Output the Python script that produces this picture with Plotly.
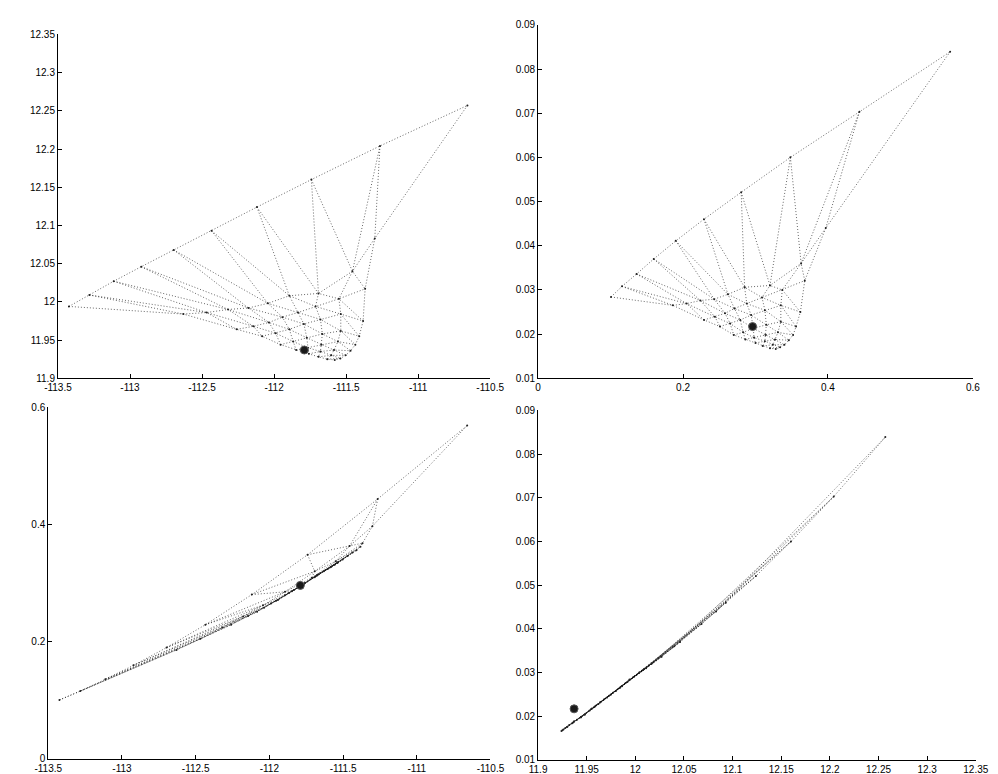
import plotly.graph_objects as go

# ---- data: 55 mesh nodes, row-major (row r = 0..9, j = 0..9-r) ----
ROW_SIZES = [10, 9, 8, 7, 6, 5, 4, 3, 2, 1]

A = [-113.424, -113.282, -113.113, -112.922, -112.697, -112.434, -112.119, -111.741, -111.265, -110.658,
     -112.630, -112.468, -112.319, -112.178, -112.043, -111.894, -111.692, -111.456, -111.301,
     -112.259, -112.144, -112.036, -111.942, -111.834, -111.712, -111.550, -111.368,
     -112.083, -111.989, -111.894, -111.793, -111.678, -111.537, -111.382,
     -111.955, -111.867, -111.773, -111.665, -111.537, -111.409,
     -111.847, -111.766, -111.672, -111.557, -111.436,
     -111.759, -111.678, -111.584, -111.469,
     -111.692, -111.604, -111.503,
     -111.631, -111.540,
     -111.579]

B = [11.994, 12.009, 12.027, 12.046, 12.068, 12.093, 12.124, 12.160, 12.204, 12.257,
     11.984, 11.986, 11.990, 11.992, 11.998, 12.008, 12.011, 12.040, 12.083,
     11.964, 11.968, 11.973, 11.980, 11.986, 11.994, 12.004, 12.017,
     11.955, 11.959, 11.964, 11.971, 11.977, 11.984, 11.975,
     11.944, 11.948, 11.953, 11.958, 11.962, 11.955,
     11.937, 11.940, 11.944, 11.948, 11.944,
     11.932, 11.935, 11.937, 11.936,
     11.928, 11.930, 11.930,
     11.925, 11.926,
     11.924]

C = [0.1006, 0.1158, 0.1359, 0.1596, 0.1900, 0.2289, 0.2803, 0.3482, 0.4434, 0.5686,
     0.186, 0.205, 0.224, 0.243, 0.262, 0.285, 0.320, 0.363, 0.397,
     0.229, 0.244, 0.258, 0.271, 0.288, 0.309, 0.337, 0.368,
     0.251, 0.265, 0.279, 0.294, 0.313, 0.335, 0.362,
     0.270, 0.283, 0.297, 0.315, 0.335, 0.356,
     0.286, 0.298, 0.314, 0.331, 0.352,
     0.300, 0.313, 0.327, 0.346,
     0.310, 0.324, 0.340,
     0.320, 0.334,
     0.328]

D = [0.0284, 0.0308, 0.0336, 0.0370, 0.0411, 0.0460, 0.0521, 0.0600, 0.0703, 0.0839,
     0.0265, 0.0269, 0.0276, 0.0279, 0.0290, 0.0306, 0.0310, 0.0360, 0.0440,
     0.0232, 0.0239, 0.0247, 0.0258, 0.0269, 0.0283, 0.0300, 0.0321,
     0.0217, 0.0224, 0.0232, 0.0243, 0.0254, 0.0265, 0.0250,
     0.0198, 0.0204, 0.0213, 0.0221, 0.0228, 0.0217,
     0.0188, 0.0192, 0.0198, 0.0204, 0.0198,
     0.0180, 0.0184, 0.0188, 0.0186,
     0.0173, 0.0176, 0.0176,
     0.0168, 0.0170,
     0.0166]

# reference point (large dot)
REF_A = [-111.79]
REF_B = [11.937]
REF_C = [0.296]
REF_D = [0.0217]

# tick labels
TL_X = [-113.5, -113, -112.5, -112, -111.5, -111, -110.5]
TL_X_TXT = ["-113.5", "-113", "-112.5", "-112", "-111.5", "-111", "-110.5"]
TL_Y = [11.9, 11.95, 12.0, 12.05, 12.1, 12.15, 12.2, 12.25, 12.3, 12.35]
TL_Y_TXT = ["11.9", "11.95", "12", "12.05", "12.1", "12.15", "12.2", "12.25", "12.3", "12.35"]
TR_X = [0, 0.2, 0.4, 0.6]
TR_X_TXT = ["0", "0.2", "0.4", "0.6"]
D_TICKS = [0.01, 0.02, 0.03, 0.04, 0.05, 0.06, 0.07, 0.08, 0.09]
D_TICKS_TXT = ["0.01", "0.02", "0.03", "0.04", "0.05", "0.06", "0.07", "0.08", "0.09"]
BL_Y = [0, 0.2, 0.4, 0.6]
BL_Y_TXT = ["0", "0.2", "0.4", "0.6"]
BR_X = TL_Y
BR_X_TXT = TL_Y_TXT

# ---- mesh topology (index structure of the triangular grid) ----
idx = {}
k = 0
for r, n in enumerate(ROW_SIZES):
    for j in range(n):
        idx[(r, j)] = k
        k += 1
N = len(ROW_SIZES) - 1
polylines = []
for r in range(N + 1):                      # rows
    polylines.append([idx[(r, j)] for j in range(N + 1 - r)])
for j in range(N + 1):                      # columns
    polylines.append([idx[(r, j)] for r in range(N + 1 - j)])
for d in range(1, N + 1):                   # diagonals r + j = d
    polylines.append([idx[(r, d - r)] for r in range(d + 1)])


def mesh_xy(X, Y):
    xs, ys = [], []
    for pl in polylines:
        if len(pl) < 2:
            continue
        for i in pl:
            xs.append(X[i])
            ys.append(Y[i])
        xs.append(None)
        ys.append(None)
    return xs, ys


panels = [
    (A, B, REF_A, REF_B, "x", "y"),
    (C, D, REF_C, REF_D, "x2", "y2"),
    (A, C, REF_A, REF_C, "x3", "y3"),
    (B, D, REF_B, REF_D, "x4", "y4"),
]

fig = go.Figure()
for X, Y, RX, RY, xa, ya in panels:
    mx, my = mesh_xy(X, Y)
    fig.add_trace(go.Scatter(x=mx, y=my, mode="lines", xaxis=xa, yaxis=ya,
                             line=dict(color="rgba(0,0,0,0.6)", width=1, dash="1px,2px"),
                             hoverinfo="skip", showlegend=False))
    fig.add_trace(go.Scatter(x=X, y=Y, mode="markers", xaxis=xa, yaxis=ya,
                             marker=dict(color="#222", size=2),
                             showlegend=False))
    fig.add_trace(go.Scatter(x=RX, y=RY, mode="markers", xaxis=xa, yaxis=ya,
                             marker=dict(color="#1a1a1a", size=8,
                                         line=dict(color="#555", width=1)),
                             showlegend=False))

W, H = 998, 774
font = dict(family="Liberation Sans, Arial, sans-serif", size=10, color="black")


def ax(domain, rng, tv, tt, anchor):
    return dict(domain=domain, range=rng, tickvals=tv, ticktext=tt, anchor=anchor,
                ticks="inside", ticklen=4, tickcolor="black", tickwidth=1,
                showline=True, linecolor="black", linewidth=1, mirror=False,
                showgrid=False, zeroline=False, tickfont=font, fixedrange=True)


fig.update_layout(
    width=W, height=H, autosize=False,
    margin=dict(l=0, r=0, t=0, b=0),
    paper_bgcolor="white", plot_bgcolor="white",
    showlegend=False,
    xaxis=ax([37 / W, 481.7 / W], [-113.5, -110.5], TL_X, TL_X_TXT, "y"),
    yaxis=ax([1 - 370 / H, 1 - 20.7 / H], [11.9, 12.35], TL_Y, TL_Y_TXT, "x"),
    xaxis2=ax([531 / W, 978.3 / W], [0, 0.6], TR_X, TR_X_TXT, "y2"),
    yaxis2=ax([1 - 370 / H, 1 - 11 / H], [0.01, 0.09], D_TICKS, D_TICKS_TXT, "x2"),
    xaxis3=ax([27 / W, 482 / W], [-113.5, -110.5], TL_X, TL_X_TXT, "y3"),
    yaxis3=ax([1 - 756.7 / H, 1 - 399.3 / H], [0, 0.6], BL_Y, BL_Y_TXT, "x3"),
    xaxis4=ax([531 / W, 981.3 / W], [11.9, 12.35], BR_X, BR_X_TXT, "y4"),
    yaxis4=ax([1 - 757.7 / H, 1 - 402.7 / H], [0.01, 0.09], D_TICKS, D_TICKS_TXT, "x4"),
)

fig.write_html("out.html")
